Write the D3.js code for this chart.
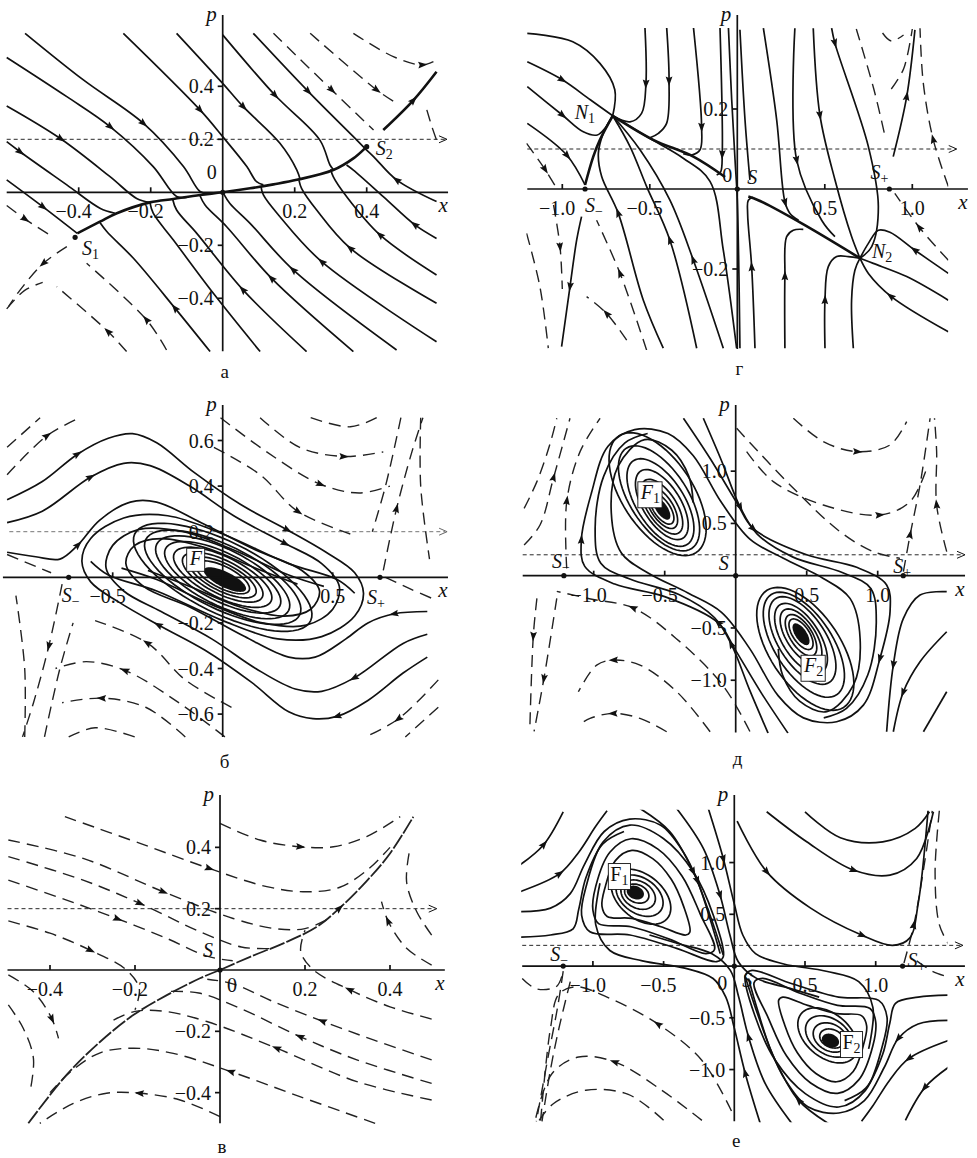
<!DOCTYPE html>
<html>
<head>
<meta charset="utf-8">
<script src="https://cdn.jsdelivr.net/npm/d3@7"></script>
<style>
  body { margin: 0; background: #fff; }
  text { font-family: "Liberation Serif", "DejaVu Serif", serif; fill: #111; }
  .sol { fill: none; stroke: #111; stroke-width: 1.7; }
  .thick { fill: none; stroke: #111; stroke-width: 2.6; }
  .dash { fill: none; stroke: #222; stroke-width: 1.4; stroke-dasharray: 12 7; }
  .sepd { fill: none; stroke: #222; stroke-width: 1.8; stroke-dasharray: 16 2; }
  .ax { stroke: #111; stroke-width: 1.7; }
</style>
</head>
<body>
<script>
// ---------- panel а ----------
const aXTicks = [-0.4, -0.2, 0.2, 0.4]
const aPTicks = [0.4, 0.2, -0.2, -0.4]
const aSep = [[-0.404, -0.155], [-0.341, -0.111], [-0.294, -0.079], [-0.202, -0.038], [-0.137, -0.025], [-0.063, -0.010], [0, 0], [0.076, 0.015], [0.141, 0.030], [0.206, 0.047], [0.307, 0.084], [0.363, 0.128], [0.395, 0.166]]
const aThick = [
  { p: aSep },
  { p: [[0.446, 0.235], [0.530, 0.348], [0.594, 0.455]], a: 1 }
]
const aSolid = [
  { p: [[-0.60, 0.047], [-0.50, -0.054], [-0.404, -0.155]], a: 1 },
  { p: [[-0.60, 0.191], [-0.563, 0.153], [-0.433, 0.028], [-0.341, -0.060], [-0.299, -0.079]], a: 1 },
  { p: [[-0.60, 0.326], [-0.452, 0.204], [-0.313, 0.059], [-0.239, -0.023], [-0.202, -0.038]], a: 1 },
  { p: [[-0.60, 0.509], [-0.433, 0.361], [-0.313, 0.248], [-0.193, 0.097], [-0.128, -0.016], [-0.10, -0.019]], a: 2 },
  { p: [[-0.549, 0.600], [-0.387, 0.424], [-0.220, 0.260], [-0.109, 0.097], [-0.063, 0.003], [-0.040, -0.006]], a: 2 },
  { p: [[-0.276, 0.600], [-0.063, 0.311], [0, 0.210], [0.067, 0.097], [0.094, 0.040], [0.113, 0.028]], a: 1 },
  { p: [[-0.128, 0.600], [0, 0.411], [0.057, 0.323], [0.159, 0.185], [0.206, 0.084], [0.215, 0.049]], a: 2 },
  { p: [[0, 0.594], [0.145, 0.367], [0.270, 0.197], [0.298, 0.103], [0.307, 0.087]], a: 1 },
  { p: [[0.085, 0.600], [0.238, 0.380], [0.363, 0.210], [0.395, 0.166]], a: 1 },
  { p: [[-0.035, -0.601], [-0.132, -0.438], [-0.248, -0.249], [-0.322, -0.148], [-0.341, -0.114]], a: 1 },
  { p: [[0.104, -0.601], [-0.026, -0.381], [-0.137, -0.180], [-0.193, -0.079], [-0.202, -0.039]] },
  { p: [[0.233, -0.601], [0.057, -0.369], [-0.072, -0.155], [-0.128, -0.067], [-0.139, -0.026]], a: 1 },
  { p: [[0.363, -0.601], [0.136, -0.325], [0.011, -0.130], [-0.049, -0.048], [-0.063, -0.013]], a: 1 },
  { p: [[0.483, -0.595], [0.196, -0.293], [0.076, -0.117], [0.020, -0.042], [0.002, -0.004]], a: 1 },
  { p: [[0.594, -0.564], [0.275, -0.262], [0.159, -0.092], [0.113, -0.010], [0.106, 0.024]], a: 1 },
  { p: [[0.594, -0.419], [0.354, -0.211], [0.261, -0.067], [0.219, 0.015], [0.212, 0.045]], a: 1 },
  { p: [[0.594, -0.312], [0.437, -0.161], [0.344, -0.016], [0.307, 0.059], [0.300, 0.087]], a: 1 },
  { p: [[0.594, -0.174], [0.534, -0.123], [0.446, -0.016], [0.363, 0.084], [0.344, 0.103]], a: 1 },
  { p: [[0.594, -0.035], [0.483, 0.047], [0.419, 0.135], [0.396, 0.164]], a: 1 }
]
const aDashed = [
  { p: [[0.141, 0.600], [0.303, 0.386], [0.419, 0.235]], a: 1 },
  { p: [[0.243, 0.600], [0.428, 0.386], [0.483, 0.336]], a: 1 },
  { p: [[0.363, 0.600], [0.474, 0.512], [0.553, 0.481], [0.594, 0.499]], a: 2 },
  { p: [[0.567, 0.311], [0.581, 0.248], [0.594, 0.197]] },
  { p: [[-0.60, -0.05], [-0.55, -0.10], [-0.47, -0.17]], a: 1 },
  { p: [[-0.60, -0.44], [-0.55, -0.37], [-0.50, -0.34]] },
  { p: [[-0.267, -0.601], [-0.318, -0.526], [-0.461, -0.356]], a: 1 },
  { p: [[-0.156, -0.595], [-0.211, -0.482], [-0.378, -0.268]], a: 1 },
  { p: [[-0.433, -0.205], [-0.498, -0.268], [-0.563, -0.369], [-0.595, -0.431]], a: 1 }
]
const aDots = [[-0.41, -0.17], [0.40, 0.172], [0, 0]]

// ---------- panel г ----------
const gXTicks = [-1.0, -0.5, 0.5, 1.0]
const gPTicks = [0.2, -0.2]
const gThick = [
  { p: [[-0.87, 0.01], [-0.823, 0.081], [-0.785, 0.123], [-0.712, 0.183]] },
  { p: [[-0.07, 0.03], [-0.251, 0.081], [-0.48, 0.123], [-0.712, 0.183]] },
  { p: [[0.063, -0.019], [0.12, -0.028], [0.368, -0.086], [0.701, -0.173]] }
]
const gSolid = [
  { p: [[-1.20, 0.389], [-0.94, 0.368], [-0.785, 0.314], [-0.70, 0.248], [-0.712, 0.183]] },
  { p: [[-1.20, 0.318], [-1.00, 0.273], [-0.84, 0.223], [-0.712, 0.183]], a: 1 },
  { p: [[-1.20, 0.256], [-1.00, 0.185], [-0.88, 0.143], [-0.80, 0.135], [-0.756, 0.152], [-0.712, 0.183]], a: 1 },
  { p: [[-1.20, 0.164], [-0.975, 0.085], [-0.87, 0.01]], a: 1 },
  { p: [[-0.423, -0.398], [-0.537, -0.278], [-0.68, -0.061], [-0.775, 0.031], [-0.794, 0.089], [-0.766, 0.139], [-0.712, 0.183]], a: 2 },
  { p: [[-0.232, -0.398], [-0.385, -0.128], [-0.518, 0.006], [-0.613, 0.106], [-0.712, 0.183]], a: 1 },
  { p: [[-0.080, -0.398], [-0.251, -0.178], [-0.385, -0.028], [-0.556, 0.098], [-0.712, 0.183]], a: 1 },
  { p: [[-0.528, 0.406], [-0.522, 0.264], [-0.547, 0.189], [-0.613, 0.168], [-0.712, 0.183]], a: 1 },
  { p: [[-0.404, 0.406], [-0.39, 0.273], [-0.404, 0.164], [-0.451, 0.139], [-0.499, 0.128]], a: 1 },
  { p: [[-0.251, 0.406], [-0.204, 0.156], [-0.213, 0.098], [-0.261, 0.085], [-0.309, 0.088]], a: 1 },
  { p: [[-0.099, 0.406], [-0.086, 0.089], [-0.095, 0.043], [-0.118, 0.035]], a: 1 },
  { p: [[-0.004, -0.398], [-0.080, -0.153], [-0.156, 0.019], [-0.309, 0.077], [-0.518, 0.131], [-0.712, 0.183]] },
  { p: [[-0.051, 0.406], [-0.032, 0.223], [-0.013, 0.073], [0.0, -0.028], [0.015, -0.398]] },
  { p: [[0.015, 0.398], [0.044, 0.173], [0.072, 0.023]] },
  { p: [[0.101, -0.398], [0.082, -0.194], [0.059, -0.061], [0.063, -0.028], [0.091, -0.021]], a: 1 },
  { p: [[0.272, -0.398], [0.272, -0.219], [0.282, -0.119], [0.32, -0.103], [0.377, -0.101]], a: 1 },
  { p: [[0.501, -0.398], [0.501, -0.278], [0.52, -0.194], [0.568, -0.169], [0.634, -0.169], [0.701, -0.173]], a: 1 },
  { p: [[0.663, -0.398], [0.653, -0.278], [0.672, -0.203], [0.701, -0.173]] },
  { p: [[1.206, -0.357], [0.88, -0.269], [0.749, -0.211], [0.701, -0.173]], a: 1 },
  { p: [[1.206, -0.278], [0.968, -0.219], [0.777, -0.186], [0.701, -0.173]] },
  { p: [[1.206, -0.211], [1.015, -0.153], [0.872, -0.108], [0.806, -0.103], [0.749, -0.136], [0.701, -0.173]], a: 1 },
  { p: [[0.149, 0.402], [0.225, 0.173], [0.272, -0.032], [0.301, -0.061], [0.35, -0.078]], a: 2 },
  { p: [[0.329, 0.402], [0.339, 0.073], [0.482, -0.078], [0.558, -0.119]], a: 1 },
  { p: [[0.434, 0.402], [0.472, 0.185], [0.558, 0.023], [0.653, -0.119], [0.701, -0.173]], a: 1 },
  { p: [[0.539, 0.402], [0.558, 0.364], [0.749, 0.106], [0.806, -0.044], [0.768, -0.144], [0.701, -0.173]], a: 1 },
  { p: [[0.891, 0.081], [0.968, 0.231], [1.015, 0.398]], a: 1 },
  { p: [[-0.89, -0.069], [-0.918, -0.128], [-0.956, -0.244], [-1.004, -0.394]], a: 2 }
]
const gDashed = [
  { p: [[0.68, 0.40], [0.78, 0.25], [0.84, 0.14]] },
  { p: [[0.83, 0.39], [0.88, 0.37], [0.95, 0.385]] },
  { p: [[0.88, 0.25], [0.95, 0.30], [1.0, 0.40]] },
  { p: [[1.206, 0.006], [1.12, 0.123], [1.063, 0.264], [1.044, 0.402]], a: 1 },
  { p: [[1.206, -0.178], [1.044, -0.098], [0.9, -0.011]], a: 1 },
  { p: [[-1.204, -0.111], [-1.128, -0.244], [-1.08, -0.398]] },
  { p: [[-1.05, -0.04], [-1.013, -0.144], [-1.0, -0.25]], a: 1 },
  { p: [[-0.518, -0.403], [-0.67, -0.211], [-0.804, -0.078]], a: 1 },
  { p: [[-0.632, -0.378], [-0.747, -0.311], [-0.861, -0.269]], a: 1 },
  { p: [[-1.204, 0.114], [-1.1, 0.05], [-1.03, 0.0]], a: 1 }
]
const gDots = [[-0.87, 0], [0, 0], [0.869, 0]]

// ---------- panel б ----------
const bXTicks = [-0.5, 0.5]
const bPTicks = [0.6, 0.4, 0.2, -0.2, -0.4, -0.6]
const bSolid = [
  { p: [[-0.98, 0.34], [-0.82, 0.42], [-0.66, 0.54], [-0.52, 0.61], [-0.41, 0.63], [-0.30, 0.59], [-0.13, 0.46], [0.08, 0.32], [0.29, 0.21], [0.47, 0.11], [0.60, 0.02], [0.64, -0.07], [0.60, -0.17], [0.45, -0.26], [0.25, -0.27], [0, -0.19], [-0.30, -0.06], [-0.52, 0.01], [-0.60, 0.07]], a: [2, 8] },
  { p: [[-0.98, 0.24], [-0.82, 0.29], [-0.60, 0.44], [-0.45, 0.50], [-0.33, 0.49], [-0.15, 0.40], [0.05, 0.27], [0.28, 0.15], [0.45, 0.06], [0.53, -0.04], [0.50, -0.14], [0.38, -0.21], [0.18, -0.20], [-0.05, -0.12], [-0.30, -0.01], [-0.46, 0.04]], a: [2, 7] },
  { p: [[-0.98, 0.11], [-0.85, 0.09], [-0.74, 0.08], [-0.66, 0.14], [-0.56, 0.25], [-0.42, 0.33], [-0.30, 0.33], [-0.10, 0.24], [0.15, 0.12], [0.36, 0.03], [0.44, -0.06], [0.40, -0.14], [0.28, -0.17], [0.08, -0.13], [-0.15, -0.04], [-0.34, 0.03]], a: 3 },
  { p: [[0.93, -0.35], [0.82, -0.42], [0.66, -0.54], [0.52, -0.61], [0.41, -0.62], [0.30, -0.59], [0.13, -0.46], [-0.08, -0.32], [-0.29, -0.21], [-0.47, -0.11], [-0.60, -0.02], [-0.64, 0.07], [-0.60, 0.17], [-0.45, 0.26], [-0.25, 0.27], [0, 0.19], [0.30, 0.06], [0.52, -0.01], [0.60, -0.07]], a: [3, 8] },
  { p: [[0.93, -0.25], [0.82, -0.29], [0.60, -0.44], [0.45, -0.50], [0.33, -0.49], [0.15, -0.40], [-0.05, -0.27], [-0.28, -0.15], [-0.45, -0.06], [-0.53, 0.04], [-0.50, 0.14], [-0.38, 0.21], [-0.18, 0.20], [0.05, 0.12], [0.30, 0.01], [0.46, -0.04]], a: 2 },
  { p: [[0.93, -0.15], [0.78, -0.16], [0.66, -0.20], [0.56, -0.27], [0.42, -0.35], [0.30, -0.35], [0.10, -0.26], [-0.15, -0.13], [-0.36, -0.04], [-0.44, 0.06], [-0.40, 0.14], [-0.28, 0.17], [-0.08, 0.13], [0.15, 0.04], [0.34, -0.03]], a: 1 }
]
// loops round the focus F: centre, major half-axis, minor half-axis
const bEllipses = [
  [0, 0, 0.40, -0.19, 0.068, 0.142], [0, 0, 0.35, -0.165, 0.062, 0.125],
  [0, 0, 0.30, -0.145, 0.055, 0.11], [0, 0, 0.26, -0.125, 0.047, 0.095],
  [0, 0, 0.22, -0.105, 0.04, 0.08], [0, 0, 0.18, -0.087, 0.034, 0.066],
  [0, 0, 0.15, -0.072, 0.027, 0.054], [0, 0, 0.12, -0.058, 0.022, 0.043]
]
const bBlobEllipses = [[0.01, -0.01, 0.095, -0.045, 0.016, 0.03]]
const bDashed = [
  { p: [[0.40, 0.70], [0.58, 0.66], [0.70, 0.70]] },
  { p: [[0.17, 0.70], [0.35, 0.57], [0.55, 0.53], [0.73, 0.55]], a: 2 },
  { p: [[-0.01, 0.70], [0.20, 0.55], [0.44, 0.41], [0.62, 0.37], [0.76, 0.40]], a: 2 },
  { p: [[-0.04, 0.57], [0.17, 0.45], [0.34, 0.29], [0.58, 0.19]], a: 2 },
  { p: [[0.73, 0.03], [0.79, 0.30], [0.86, 0.55], [0.91, 0.70]], a: 1 },
  { p: [[0.90, 0.70], [0.90, 0.40], [0.94, 0.08]] },
  { p: [[0.81, 0.70], [0.74, 0.40], [0.68, 0.20]] },
  { p: [[-0.98, 0.57], [-0.83, 0.70]] },
  { p: [[-0.98, 0.45], [-0.80, 0.62], [-0.65, 0.70]], a: 1 },
  { p: [[-0.98, 0.10], [-0.78, 0.02]] },
  { p: [[0.74, 0.0], [0.85, -0.05], [0.97, -0.10]] },
  { p: [[-0.40, -0.70], [-0.58, -0.66], [-0.70, -0.70]] },
  { p: [[-0.17, -0.70], [-0.35, -0.57], [-0.55, -0.53], [-0.73, -0.55]], a: 2 },
  { p: [[0.01, -0.70], [-0.20, -0.55], [-0.44, -0.41], [-0.62, -0.37], [-0.76, -0.40]], a: 2 },
  { p: [[0.04, -0.57], [-0.17, -0.45], [-0.34, -0.29], [-0.58, -0.19]], a: 2 },
  { p: [[-0.73, -0.03], [-0.79, -0.30], [-0.86, -0.55], [-0.91, -0.70]], a: 1 },
  { p: [[-0.90, -0.70], [-0.90, -0.40], [-0.94, -0.08]] },
  { p: [[-0.81, -0.70], [-0.74, -0.40], [-0.68, -0.20]] },
  { p: [[0.98, -0.57], [0.83, -0.70]] },
  { p: [[0.98, -0.45], [0.80, -0.62], [0.65, -0.70]], a: 1 }
]
const bDots = [[-0.70, 0], [0.715, 0]]

// ---------- panel д ----------
const dXTicks = [-1.0, -0.5, 0.5, 1.0]
const dPTicks = [1.0, 0.5, -0.5, -1.0]
const dEllipses = [
  [-0.55, 0.78, 0.27, -0.56, 0.21, 0.18], [-0.54, 0.74, 0.23, -0.48, 0.17, 0.15],
  [-0.53, 0.70, 0.19, -0.40, 0.14, 0.125], [-0.52, 0.68, 0.15, -0.32, 0.11, 0.10],
  [-0.52, 0.66, 0.12, -0.25, 0.085, 0.078], [-0.52, 0.65, 0.09, -0.19, 0.065, 0.058],
  [-0.52, 0.64, 0.07, -0.14, 0.048, 0.043],
  [0.49, -0.70, 0.27, -0.56, 0.21, 0.18], [0.48, -0.66, 0.23, -0.48, 0.17, 0.15],
  [0.47, -0.62, 0.19, -0.40, 0.14, 0.125], [0.46, -0.60, 0.15, -0.32, 0.11, 0.10],
  [0.46, -0.58, 0.12, -0.25, 0.085, 0.078], [0.46, -0.57, 0.09, -0.19, 0.065, 0.058],
  [0.46, -0.56, 0.07, -0.14, 0.048, 0.043]
]
const dBlobEllipses = [[-0.52, 0.64, 0.05, -0.10, 0.033, 0.03], [0.46, -0.56, 0.05, -0.10, 0.033, 0.03]]
const dSolid = [
  { p: [[0.368, -1.506], [0.181, -1.123], [-0.007, -0.70], [-0.124, -0.45], [-0.5, -0.2], [-0.852, -0.08], [-1.063, 0.089], [-1.087, 0.344], [-1.016, 0.791], [-0.899, 1.238], [-0.711, 1.397], [-0.477, 1.36], [-0.30, 1.15], [-0.10, 0.70], [0.10, 0.35], [0.336, 0.166], [0.617, -0.026], [0.805, -0.217], [0.876, -0.6], [0.829, -1.046], [0.641, -1.301], [0.45, -1.20], [0.33, -0.95], [0.30, -0.70]], a: [3, 7] },
  { p: [[-0.368, 1.506], [-0.181, 1.123], [0.007, 0.700], [0.124, 0.450], [0.500, 0.200], [0.852, 0.080], [1.063, -0.089], [1.087, -0.344], [1.016, -0.791], [0.899, -1.238], [0.711, -1.397], [0.477, -1.36], [0.30, -1.15], [0.10, -0.70], [-0.10, -0.35], [-0.336, -0.166], [-0.617, 0.026], [-0.805, 0.217], [-0.876, 0.600], [-0.829, 1.046], [-0.641, 1.301], [-0.45, 1.20], [-0.33, 0.95], [-0.30, 0.70]], a: [3, 8] },
  { p: [[-0.228, 1.506], [-0.10, 1.10], [0.03, 0.66], [0.15, 0.40], [0.40, 0.18], [0.75, 0.03], [0.95, -0.12], [0.99, -0.45], [0.93, -0.95], [0.78, -1.27], [0.62, -1.36]], a: 2 },
  { p: [[0.228, -1.506], [0.10, -1.10], [-0.03, -0.66], [-0.15, -0.40], [-0.40, -0.18], [-0.75, -0.03], [-0.95, 0.12], [-0.99, 0.45], [-0.93, 0.95], [-0.78, 1.27], [-0.62, 1.36]], a: 2 },
  { p: [[1.486, -0.153], [1.298, -0.185], [1.181, -0.408], [1.110, -0.855], [1.063, -1.493]], a: 3 },
  { p: [[1.486, -0.536], [1.298, -0.823], [1.181, -1.110], [1.110, -1.493]], a: 2 },
  { p: [[1.486, -1.110], [1.322, -1.493]] }
]
const dDashed = [
  { p: [[0.406, 1.506], [0.617, 1.283], [0.852, 1.187], [1.087, 1.251], [1.204, 1.474]], a: 2 },
  { p: [[0.077, 1.187], [0.265, 0.900], [0.617, 0.676], [1.016, 0.581], [1.228, 0.708], [1.345, 1.027]], a: 3 },
  { p: [[0.007, 1.410], [0.383, 0.868], [0.735, 0.421], [0.969, 0.230], [1.157, 0.166]] },
  { p: [[1.181, 0.038], [1.228, 0.389], [1.298, 0.868], [1.369, 1.506]], a: 1 },
  { p: [[1.486, 0.230], [1.415, 0.676], [1.415, 1.187], [1.40, 1.506]], a: 1 },
  { p: [[-1.49, 0.293], [-1.378, 0.485], [-1.284, 0.931], [-1.167, 1.506]], a: 2 },
  { p: [[-1.49, 0.644], [-1.40, 0.9], [-1.31, 1.25], [-1.26, 1.506]] },
  { p: [[-1.19, 0.07], [-1.19, 0.708], [-1.096, 1.187], [-0.955, 1.506]], a: 1 },
  { p: [[-1.40, -0.217], [-1.425, -0.568], [-1.45, -1.47]], a: 1 },
  { p: [[-1.26, -0.217], [-1.35, -0.98], [-1.42, -1.49]], a: 1 },
  { p: [[-0.486, -1.493], [-0.674, -1.365], [-0.862, -1.317], [-1.026, -1.365], [-1.108, -1.429]], a: 2 },
  { p: [[-0.18, -1.493], [-0.415, -1.110], [-0.674, -0.855], [-0.862, -0.807], [-0.979, -0.855], [-1.108, -1.110]], a: 3 },
  { p: [[0.10, -1.49], [-0.09, -1.05], [-0.42, -0.60], [-0.72, -0.31], [-1.03, -0.22], [-1.26, -0.15]], a: 3 }
]
const dDots = [[-1.21, 0], [0, 0], [1.18, 0]]

// ---------- panel в ----------
const vXTicks = [-0.4, -0.2, 0.2, 0.4]
const vPTicks = [0.4, 0.2, -0.2, -0.4]
const vSep = [
  { p: [[0, 0], [0.071, 0.043], [0.149, 0.087], [0.227, 0.14], [0.28, 0.20], [0.345, 0.29], [0.40, 0.38], [0.455, 0.5]], a: 4 },
  { p: [[0, 0], [-0.047, -0.027], [-0.125, -0.082], [-0.204, -0.147], [-0.282, -0.234], [-0.361, -0.342], [-0.451, -0.5]] }
]
const vDashed = [
  { p: [[0, 0.478], [0.094, 0.424], [0.188, 0.402], [0.267, 0.402], [0.345, 0.435], [0.424, 0.5]], a: 2 },
  { p: [[-0.365, 0.5], [-0.188, 0.413], [-0.027, 0.332], [0.110, 0.272], [0.204, 0.255], [0.282, 0.270], [0.35, 0.33], [0.40, 0.40]], a: 2 },
  { p: [[-0.498, 0.424], [-0.322, 0.364], [-0.133, 0.255], [0.031, 0.168], [0.13, 0.135], [0.20, 0.135], [0.26, 0.17]], a: 2 },
  { p: [[-0.498, 0.370], [-0.322, 0.293], [-0.188, 0.217], [-0.047, 0.125], [0.05, 0.075], [0.12, 0.07]], a: 2 },
  { p: [[-0.498, 0.293], [-0.361, 0.228], [-0.243, 0.168], [-0.125, 0.103], [-0.03, 0.045], [0.03, 0.03]], a: 2 },
  { p: [[-0.498, 0.16], [-0.40, 0.12], [-0.306, 0.065], [-0.22, 0.0], [-0.19, -0.06], [-0.20, -0.13]], a: 2 },
  { p: [[-0.498, -0.016], [-0.439, -0.071], [-0.396, -0.158], [-0.380, -0.223]], a: 2 },
  { p: [[-0.498, -0.114], [-0.463, -0.190], [-0.439, -0.288], [-0.447, -0.397]] },
  { p: [[0, -0.478], [-0.094, -0.424], [-0.188, -0.402], [-0.267, -0.402], [-0.345, -0.435], [-0.424, -0.5]], a: 2 },
  { p: [[0.365, -0.5], [0.188, -0.413], [0.027, -0.332], [-0.110, -0.272], [-0.204, -0.255], [-0.282, -0.270], [-0.35, -0.33], [-0.40, -0.40]], a: 2 },
  { p: [[0.498, -0.424], [0.322, -0.364], [0.133, -0.255], [-0.031, -0.168], [-0.13, -0.135], [-0.20, -0.135], [-0.26, -0.17]], a: 2 },
  { p: [[0.498, -0.370], [0.322, -0.293], [0.188, -0.217], [0.047, -0.125], [-0.05, -0.075], [-0.12, -0.07]], a: 2 },
  { p: [[0.498, -0.293], [0.361, -0.228], [0.243, -0.168], [0.125, -0.103], [0.03, -0.045], [-0.03, -0.03]], a: 2 },
  { p: [[0.498, -0.16], [0.40, -0.12], [0.306, -0.065], [0.22, 0.0], [0.19, 0.06], [0.20, 0.13]], a: 2 },
  { p: [[0.498, 0.016], [0.439, 0.071], [0.396, 0.158], [0.380, 0.223]], a: 2 },
  { p: [[0.498, 0.114], [0.463, 0.190], [0.439, 0.288], [0.447, 0.397]] }
]
const vDots = [[0, 0]]

// ---------- panel е ----------
const eXTicks = [-1.0, -0.5, 0.5, 1.0]
const ePTicks = [1.0, 0.5, -0.5, -1.0]
const eEllipses = [
  [-0.69, 0.70, 0.07, -0.07, 0.05, 0.06], [-0.68, 0.69, 0.10, -0.11, 0.07, 0.09],
  [-0.67, 0.68, 0.14, -0.16, 0.09, 0.12], [-0.66, 0.67, 0.18, -0.22, 0.11, 0.15],
  [0.69, -0.70, 0.07, -0.07, 0.05, 0.06], [0.68, -0.69, 0.10, -0.11, 0.07, 0.09],
  [0.67, -0.68, 0.14, -0.16, 0.09, 0.12], [0.66, -0.67, 0.18, -0.22, 0.11, 0.15]
]
const eBlobEllipses = [[-0.70, 0.71, 0.05, -0.05, 0.035, 0.045], [0.68, -0.72, 0.05, -0.05, 0.035, 0.045]]
const eLoops = [
  [[-1.045, 0.783], [-0.927, 1.201], [-0.738, 1.362], [-0.502, 1.233], [-0.290, 0.911], [-0.149, 0.493], [-0.078, 0.090], [-0.125, 0.042], [-0.408, 0.171], [-0.738, 0.300], [-1.021, 0.332], [-1.080, 0.493]],
  [[-0.98, 0.77], [-0.88, 1.10], [-0.73, 1.23], [-0.54, 1.13], [-0.37, 0.87], [-0.24, 0.50], [-0.14, 0.16], [-0.20, 0.12], [-0.46, 0.26], [-0.73, 0.38], [-0.96, 0.41], [-1.00, 0.54]],
  [[-0.914, 0.759], [-0.841, 1.019], [-0.724, 1.118], [-0.577, 1.038], [-0.446, 0.838], [-0.359, 0.579], [-0.314, 0.329], [-0.343, 0.300], [-0.519, 0.380], [-0.724, 0.460], [-0.899, 0.479], [-0.936, 0.579]],
  [[1.045, -0.783], [0.927, -1.201], [0.738, -1.362], [0.502, -1.233], [0.290, -0.911], [0.149, -0.493], [0.078, -0.090], [0.125, -0.042], [0.408, -0.171], [0.738, -0.300], [1.021, -0.332], [1.080, -0.493]],
  [[0.98, -0.77], [0.88, -1.10], [0.73, -1.23], [0.54, -1.13], [0.37, -0.87], [0.24, -0.50], [0.14, -0.16], [0.20, -0.12], [0.46, -0.26], [0.73, -0.38], [0.96, -0.41], [1.00, -0.54]],
  [[0.914, -0.759], [0.841, -1.019], [0.724, -1.118], [0.577, -1.038], [0.446, -0.838], [0.359, -0.579], [0.314, -0.329], [0.343, -0.300], [0.519, -0.380], [0.724, -0.460], [0.899, -0.479], [0.936, -0.579]]
]
const eSolid = [
  { p: [[-1.517, 0.976], [-1.35, 1.17], [-1.21, 1.49]], a: 1 },
  { p: [[-1.517, 0.718], [-1.233, 0.895], [-1.10, 1.10], [-0.98, 1.35], [-0.90, 1.50]], a: 1 },
  { p: [[-1.517, 0.525], [-1.30, 0.56], [-1.16, 0.70], [-1.06, 0.98], [-0.92, 1.30], [-0.74, 1.42], [-0.52, 1.36], [-0.36, 1.10], [-0.26, 0.82], [-0.17, 0.45], [-0.10, 0.12]], a: 8 },
  { p: [[-1.517, 0.28], [-1.30, 0.30], [-1.14, 0.36], [-1.10, 0.55], [-1.05, 0.85], [-0.93, 1.18], [-0.78, 1.30]] },
  { p: [[-0.667, 1.523], [-0.455, 1.298], [-0.290, 0.911], [-0.172, 0.493], [-0.078, 0.106]], a: 2 },
  { p: [[-0.408, 1.523], [-0.219, 1.137], [-0.101, 0.686], [-0.031, 0.300], [0.028, 0.042], [0.158, -0.119], [0.394, -0.216], [0.60, -0.30]], a: 2 },
  { p: [[-0.184, 1.523], [-0.078, 1.040], [0.0, 0.60], [0.06, 0.30], [0.15, 0.12], [0.35, 0.02], [0.65, -0.05], [0.88, -0.15], [0.98, -0.40], [0.95, -0.80]], a: 1 },
  { p: [[0.02, 1.40], [0.23, 0.91], [0.54, 0.56], [0.90, 0.30], [1.12, 0.20], [1.24, 0.27], [1.30, 0.60], [1.37, 1.50]], a: [1, 3] },
  { p: [[0.229, 1.491], [0.512, 1.201], [0.842, 0.928], [1.101, 0.879], [1.290, 1.040], [1.408, 1.491]], a: 2 },
  { p: [[0.50, 1.49], [0.75, 1.24], [1.05, 1.20], [1.28, 1.33], [1.38, 1.49]] },
  { p: [[1.517, -0.976], [1.35, -1.17], [1.21, -1.49]], a: 1 },
  { p: [[1.517, -0.718], [1.233, -0.895], [1.10, -1.10], [0.98, -1.35], [0.90, -1.50]], a: 1 },
  { p: [[1.517, -0.525], [1.30, -0.56], [1.16, -0.70], [1.06, -0.98], [0.92, -1.30], [0.74, -1.42], [0.52, -1.36], [0.36, -1.10], [0.26, -0.82], [0.17, -0.45], [0.10, -0.12]], a: 2 },
  { p: [[1.517, -0.28], [1.30, -0.30], [1.14, -0.36], [1.10, -0.55], [1.05, -0.85], [0.93, -1.18], [0.78, -1.30]] },
  { p: [[0.667, -1.523], [0.455, -1.298], [0.290, -0.911], [0.172, -0.493], [0.078, -0.106]], a: 1 },
  { p: [[0.408, -1.523], [0.219, -1.137], [0.101, -0.686], [0.031, -0.300], [-0.028, -0.042], [-0.158, 0.119], [-0.394, 0.216], [-0.60, 0.30]], a: 2 },
  { p: [[0.184, -1.523], [0.078, -1.040], [0.0, -0.60], [-0.06, -0.30], [-0.15, -0.12], [-0.35, -0.02], [-0.65, 0.05], [-0.88, 0.15], [-0.98, 0.40], [-0.95, 0.80]], a: 1 }
]
const eDashed = [
  { p: [[-0.02, -1.40], [-0.23, -0.91], [-0.54, -0.56], [-0.90, -0.30], [-1.12, -0.20], [-1.24, -0.27], [-1.30, -0.60], [-1.37, -1.50]], a: 2 },
  { p: [[-0.229, -1.491], [-0.512, -1.201], [-0.842, -0.928], [-1.101, -0.879], [-1.290, -1.040], [-1.408, -1.491]], a: 2 },
  { p: [[-0.50, -1.49], [-0.75, -1.24], [-1.05, -1.20], [-1.28, -1.33], [-1.38, -1.49]] },
  { p: [[1.20, 0.03], [1.27, 0.40], [1.34, 0.95], [1.40, 1.50]], a: 1 },
  { p: [[1.45, 1.50], [1.42, 0.90], [1.45, 0.40], [1.52, 0.20]] },
  { p: [[-1.21, -0.05], [-1.25, -0.40], [-1.32, -0.90], [-1.40, -1.50]] },
  { p: [[-1.16, -0.15], [-1.24, -0.60], [-1.30, -1.0], [-1.36, -1.50]] },
  { p: [[-1.50, -0.12], [-1.40, -0.22], [-1.26, -0.20], [-1.22, -0.10]] },
  { p: [[1.29, 0.05], [1.40, -0.05], [1.50, -0.10]] }
]
const eDots = [[-1.21, 0], [0, 0], [1.19, 0]]

// ---------- drawing ----------
const svg = d3.select('body').append('svg').attr('width', 977).attr('height', 1158)
const fmt = v => (v < 0 ? '\u2212' : '') + Math.abs(v).toFixed(1)

function addArrow (g, node, tx, ty) {
  const L = node.getTotalLength()
  let best = 0
  let bd = Infinity
  for (let l = 0; l <= L; l += 1.5) {
    const q = node.getPointAtLength(l)
    const d = (q.x - tx) ** 2 + (q.y - ty) ** 2
    if (d < bd) { bd = d; best = l }
  }
  const a = node.getPointAtLength(Math.max(0, best - 3))
  const b = node.getPointAtLength(Math.min(L, best + 3))
  const q = node.getPointAtLength(best)
  const ang = Math.atan2(b.y - a.y, b.x - a.x) * 180 / Math.PI
  g.append('path').attr('d', 'M5.5,0L-4,-3.4L-2.5,0L-4,3.4Z').attr('fill', '#111')
    .attr('transform', `translate(${q.x},${q.y}) rotate(${ang})`)
}

// closed loop round a focus, from its centre and two half-axes
function ellipsePts (e) {
  const pts = []
  for (let i = 0; i < 64; i++) {
    const t = i / 64 * 2 * Math.PI
    pts.push([e[0] + Math.cos(t) * e[2] + Math.sin(t) * e[4], e[1] + Math.cos(t) * e[3] + Math.sin(t) * e[5]])
  }
  return pts
}

function addLabel (g, L, x, y) {
  const t = g.append('text')
    .attr('x', x(L.at[0]) + L.dx).attr('y', y(L.at[1]) + L.dy)
    .attr('font-size', L.fs || 20)
    .attr('text-anchor', L.anchor || 'start')
  t.append('tspan').text(L.t).attr('font-style', L.up ? 'normal' : 'italic')
  if (L.s) t.append('tspan').text(L.s).attr('font-size', 14).attr('dy', 4).attr('font-style', 'normal')
  if (L.box) {
    const bb = t.node().getBBox()
    g.insert('rect', () => t.node())
      .attr('x', bb.x - 2).attr('y', bb.y + 1).attr('width', bb.width + 4).attr('height', bb.height + 1)
      .attr('fill', '#fff').attr('stroke', '#111').attr('stroke-width', 0.9)
  }
}

let clipCount = 0
function drawPanel (P) {
  const x = d3.scaleLinear().domain(P.xd).range(P.xr)
  const y = d3.scaleLinear().domain(P.yd).range(P.yr)
  const g = svg.append('g')
  const clipId = 'clip' + (clipCount++)
  svg.append('clipPath').attr('id', clipId).append('rect')
    .attr('x', x(P.xd[0]) - 1).attr('y', y(P.yd[1]) - 1)
    .attr('width', x(P.xd[1]) - x(P.xd[0]) + 2).attr('height', y(P.yd[0]) - y(P.yd[1]) + 2)
  const line = d3.line().x(d => x(d[0])).y(d => y(d[1])).curve(d3.curveCatmullRom.alpha(0.5))
  const closed = d3.line().x(d => x(d[0])).y(d => y(d[1])).curve(d3.curveCatmullRomClosed.alpha(0.5))
  const lin = d3.line().x(d => x(d[0])).y(d => y(d[1])).curve(d3.curveLinearClosed)

  // reference line p = const
  const rx0 = x(P.ref[1])
  const rx1 = x(P.ref[2])
  const ry = y(P.ref[0])
  g.append('line').attr('x1', rx0).attr('x2', rx1 - 2).attr('y1', ry).attr('y2', ry)
    .attr('stroke', P.refColor || '#111').attr('stroke-width', 0.9).attr('stroke-dasharray', '4 3')
  g.append('path').attr('d', `M${rx1 - 8},${ry - 3.5}L${rx1},${ry}L${rx1 - 8},${ry + 3.5}`)
    .attr('fill', 'none').attr('stroke', P.refColor || '#111').attr('stroke-width', 1)

  const marks = g.append('g').attr('clip-path', `url(#${clipId})`)
  const heads = g.append('g')

  const loops = P.loops || []
  loops.forEach(l => marks.append('path').attr('d', closed(l)).attr('class', 'sol').attr('stroke-width', 1.5))
  const ells = P.ellipses || []
  ells.forEach(e => marks.append('path').attr('d', lin(ellipsePts(e))).attr('class', 'sol').attr('stroke-width', 1.5))
  const blobEll = P.blobEllipses || []
  blobEll.forEach(e => marks.append('path').attr('d', lin(ellipsePts(e))).attr('fill', '#111'))

  const drawSet = (set, cls) => set.forEach(c => {
    const path = marks.append('path').attr('d', line(c.p)).attr('class', cls)
    const idx = c.a === undefined ? [] : [].concat(c.a)
    idx.forEach(i => addArrow(heads, path.node(), x(c.p[i][0]), y(c.p[i][1])))
  })
  drawSet(P.dashed || [], 'dash')
  drawSet(P.sepd || [], 'sepd')
  drawSet(P.solid || [], 'sol')
  drawSet(P.thick || [], 'thick')

  // axes
  const ax = g.append('g')
  ax.append('line').attr('class', 'ax')
    .attr('x1', x(P.xAx[0])).attr('x2', x(P.xAx[1])).attr('y1', y(0)).attr('y2', y(0))
  ax.append('line').attr('class', 'ax')
    .attr('x1', x(0)).attr('x2', x(0)).attr('y1', y(P.pAx[0])).attr('y2', y(P.pAx[1]))
  P.xt.forEach(v => {
    ax.append('line').attr('class', 'ax').attr('stroke-width', 1)
      .attr('x1', x(v)).attr('x2', x(v)).attr('y1', y(0)).attr('y2', y(0) - 5)
    ax.append('text').text(fmt(v)).attr('font-size', 20)
      .attr('text-anchor', v < 0 ? 'end' : 'middle')
      .attr('x', v < 0 ? x(v) + 13 : x(v)).attr('y', y(0) + 26)
  })
  P.pt.forEach(v => {
    ax.append('line').attr('class', 'ax').attr('stroke-width', 1)
      .attr('x1', x(0)).attr('x2', x(0) - 5).attr('y1', y(v)).attr('y2', y(v))
    ax.append('text').text(fmt(v)).attr('font-size', 20).attr('text-anchor', 'end')
      .attr('x', x(0) - 9).attr('y', y(v) + 7)
  })
  ax.append('text').text('p').attr('font-style', 'italic').attr('font-size', 21)
    .attr('text-anchor', 'end').attr('x', x(0) - 6).attr('y', y(P.pAx[1]) + 6)
  ax.append('text').text('x').attr('font-style', 'italic').attr('font-size', 21)
    .attr('text-anchor', 'middle').attr('x', x(P.xAx[1]) - 5).attr('y', y(0) + 20)

  const dots = P.dots || []
  dots.forEach(d => g.append('circle').attr('cx', x(d[0])).attr('cy', y(d[1])).attr('r', 2.6).attr('fill', '#111'))
  const labels = P.labels || []
  labels.forEach(L => addLabel(g, L, x, y))
  g.append('text').text(P.cap).attr('font-size', 19).attr('text-anchor', 'middle')
    .attr('x', x(0) + 2).attr('y', y(P.yd[0]) + P.capDy)
}

drawPanel({
  xd: [-0.6, 0.6], xr: [6.7, 438.7], yd: [-0.6, 0.6], yr: [351.3, 33.3],
  xAx: [-0.6, 0.626], pAx: [-0.6, 0.669], ref: [0.2, -0.6, 0.623],
  xt: aXTicks, pt: aPTicks, dashed: aDashed, solid: aSolid, thick: aThick, dots: aDots,
  labels: [
    { t: 'S', s: '1', at: [-0.41, -0.17], dx: 7, dy: 18 },
    { t: 'S', s: '2', at: [0.40, 0.172], dx: 9, dy: 8 },
    { t: '0', up: true, anchor: 'end', at: [0, 0], dx: -6, dy: -13 }
  ],
  cap: 'а', capDy: 27
})

drawPanel({
  xd: [-1.2, 1.2], xr: [527.3, 947.3], yd: [-0.4, 0.4], yr: [349, 29],
  xAx: [-1.2, 1.318], pAx: [-0.4, 0.435], ref: [0.1, -1.2, 1.254],
  xt: gXTicks, pt: gPTicks, dashed: gDashed, solid: gSolid, thick: gThick, dots: gDots,
  labels: [
    { t: 'N', s: '1', at: [-0.712, 0.183], dx: -38, dy: 3 },
    { t: 'N', s: '2', at: [0.701, -0.173], dx: 12, dy: 0 },
    { t: 'S', s: '\u2212', at: [-0.87, 0], dx: 0, dy: 23 },
    { t: 'S', at: [0, 0], dx: 10, dy: -5 },
    { t: 'S', s: '+', at: [0.869, 0], dx: -19, dy: -10 },
    { t: '0', up: true, anchor: 'end', at: [0, 0], dx: -5, dy: -7 }
  ],
  cap: 'г', capDy: 26
})

drawPanel({
  xd: [-1, 1], xr: [2.7, 442.7], yd: [-0.7, 0.7], yr: [736.9, 417.7],
  xAx: [-0.999, 1.024], pAx: [-0.7, 0.756], ref: [0.2, -0.97, 1.02], refColor: '#666',
  xt: bXTicks, pt: bPTicks, dashed: bDashed, solid: bSolid, ellipses: bEllipses, blobEllipses: bBlobEllipses, dots: bDots,
  labels: [
    { t: 'S', s: '\u2212', at: [-0.70, 0], dx: -7, dy: 25 },
    { t: 'S', s: '+', at: [0.715, 0], dx: -13, dy: 27 },
    { t: 'F', box: true, at: [0, 0], dx: -33, dy: -12 }
  ],
  cap: 'б', capDy: 31
})

drawPanel({
  xd: [-1.5, 1.5], xr: [522.7, 948.7], yd: [-1.5, 1.5], yr: [732.5, 418.9],
  xAx: [-1.5, 1.615], pAx: [-1.5, 1.633], ref: [0.2, -1.5, 1.615],
  xt: dXTicks, pt: dPTicks, dashed: dDashed, solid: dSolid, ellipses: dEllipses, blobEllipses: dBlobEllipses, dots: dDots,
  labels: [
    { t: 'S', s: '\u2212', at: [-1.21, 0], dx: -12, dy: -8 },
    { t: 'S', anchor: 'end', at: [0, 0], dx: -7, dy: -6 },
    { t: 'S', s: '+', at: [1.18, 0], dx: -10, dy: -3 },
    { t: 'F', s: '1', box: true, at: [-0.52, 0.64], dx: -21, dy: -10 },
    { t: 'F', s: '2', box: true, at: [0.46, -0.56], dx: 3, dy: 38 }
  ],
  cap: 'д', capDy: 32
})

drawPanel({
  xd: [-0.5, 0.5], xr: [7.5, 432.5], yd: [-0.5, 0.5], yr: [1123.3, 816.7],
  xAx: [-0.5, 0.529], pAx: [-0.5, 0.571], ref: [0.2, -0.5, 0.51],
  xt: vXTicks, pt: vPTicks, dashed: vDashed, sepd: vSep, dots: vDots,
  labels: [
    { t: 'S', anchor: 'end', at: [0, 0], dx: -7, dy: -13 },
    { t: '0', up: true, at: [0, 0], dx: 7, dy: 22 }
  ],
  cap: 'в', capDy: 30
})

drawPanel({
  xd: [-1.5, 1.5], xr: [522.2, 946.4], yd: [-1.5, 1.5], yr: [1121.3, 810.8],
  xAx: [-1.5, 1.631], pAx: [-1.5, 1.652], ref: [0.2, -1.5, 1.617],
  xt: eXTicks, pt: ePTicks, dashed: eDashed, solid: eSolid, loops: eLoops, ellipses: eEllipses, blobEllipses: eBlobEllipses, dots: eDots,
  labels: [
    { t: 'S', s: '\u2212', at: [-1.21, 0], dx: -13, dy: -5 },
    { t: 'S', at: [0, 0], dx: 8, dy: 21 },
    { t: 'S', s: '+', at: [1.19, 0], dx: 5, dy: 1 },
    { t: '0', up: true, anchor: 'end', at: [0, 0], dx: -7, dy: 24 },
    { t: 'F', s: '1', up: true, box: true, at: [-0.70, 0.71], dx: -25, dy: -12 },
    { t: 'F', s: '2', up: true, box: true, at: [0.68, -0.72], dx: 12, dy: 8 }
  ],
  cap: 'е', capDy: 26
})
</script>
</body>
</html>
